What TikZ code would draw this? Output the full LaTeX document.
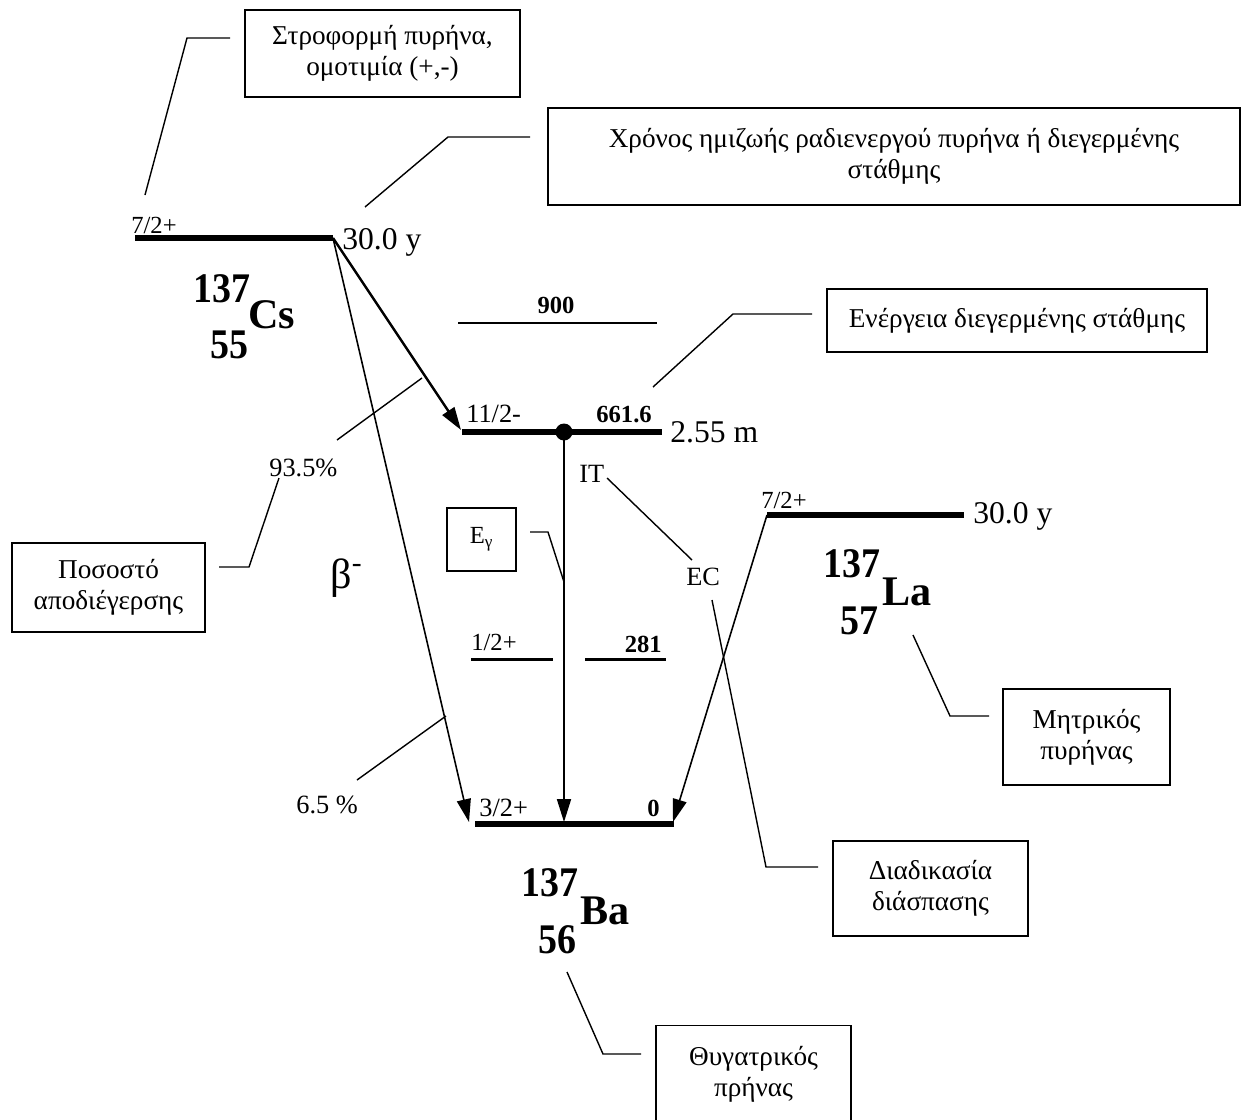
\documentclass[tikz,border=0pt]{standalone}
\usepackage{fontspec}
\setmainfont{Liberation Serif}
\newfontfamily\nucdigits[FakeStretch=0.9]{Liberation Serif}
\usetikzlibrary{arrows.meta}
\begin{document}
\begin{tikzpicture}[x=0.02cm,y=-0.02cm,
  box/.style={draw,line width=1pt,align=center,font=\fontsize{15.5}{17.5}\selectfont,inner sep=0pt},
  lead/.style={line width=0.8pt},
  lvl/.style={line width=3.6pt},
  lvlthin/.style={line width=1.7pt},
  lab/.style={font=\fontsize{15}{17}\selectfont,inner sep=0pt},
  spin/.style={font=\fontsize{14}{16}\selectfont,inner sep=0pt},
  bl/.style={font=\fontsize{14}{16}\selectfont\bfseries,inner sep=0pt},
  big/.style={font=\fontsize{24}{26}\selectfont\bfseries,inner sep=0pt},
  bigd/.style={font=\fontsize{24}{26}\selectfont\nucdigits\bfseries,inner sep=0pt},
  hl/.style={font=\fontsize{18}{20}\selectfont,inner sep=0pt},
  arr/.style={-{Triangle[length=13pt,width=8pt]}},
]
\useasboundingbox (0,0) rectangle (1244,1119);
\clip (0,0) rectangle (1244,1119);

% ---- boxes
\node[box,minimum width=5.5cm,minimum height=1.74cm] (bspin) at (382.5,53.5) {Στροφορμή πυρήνα,\\ομοτιμία (+,-)};
\node[box,minimum width=13.84cm,minimum height=1.94cm] (bhalf) at (894,156.5) {Χρόνος ημιζωής ραδιενεργού πυρήνα ή διεγερμένης\\στάθμης};
\node[box,minimum width=7.6cm,minimum height=1.26cm] (benergy) at (1017,320.5) {Ενέργεια διεγερμένης στάθμης};
\node[box,minimum width=3.86cm,minimum height=1.78cm] (bratio) at (108.5,587.5) {Ποσοστό\\αποδιέγερσης};
\node[box,minimum width=1.38cm,minimum height=1.26cm,font=\fontsize{14}{16}\selectfont] (bgamma) at (481.5,539.5) {E\textsubscript{γ}};
\node[box,minimum width=3.34cm,minimum height=1.92cm] (bparent) at (1086.5,737) {Μητρικός\\πυρήνας};
\node[box,minimum width=3.9cm,minimum height=1.9cm] (bproc) at (930.5,888.5) {Διαδικασία\\διάσπασης};
\node[box,minimum width=3.9cm,minimum height=1.94cm] (bdaughter) at (753.5,1074) {Θυγατρικός\\πρήνας};

% ---- level end points
\coordinate (csL) at (135,238);  \coordinate (csR) at (333,238);
\coordinate (e9L) at (458,323);  \coordinate (e9R) at (657,323);
\coordinate (e6L) at (462,432);  \coordinate (e6R) at (662,432);
\coordinate (e2L) at (471,659);  \coordinate (e2M) at (553,659);
\coordinate (e2N) at (585,659);  \coordinate (e2R) at (666,659);
\coordinate (g0L) at (475,824);  \coordinate (g0R) at (674,824);
\coordinate (laL) at (767,515);  \coordinate (laR) at (964,515);
\coordinate (dot) at (564,432);
\coordinate (tipA) at (461,430);
\coordinate (tipB) at (469,822);
\coordinate (tipC) at (564,822);
\coordinate (tipD) at (673,822);

% ---- levels
\draw[lvl] (csL) -- (csR);
\draw[lvlthin] (e9L) -- (e9R);
\draw[lvl] (e6L) -- (e6R);
\draw[lvlthin] (e2L) -- (e2M);
\draw[lvlthin] (e2N) -- (e2R);
\draw[lvl] (g0L) -- (g0R);
\draw[lvl] (laL) -- (laR);
\fill (dot) circle[radius=8.5];

% ---- transitions
\draw[arr,line width=1.4pt] (csR) -- (tipA);
\draw[arr,line width=0.9pt] (csR) -- (tipB);
\draw[arr,line width=0.8pt] (dot) -- (tipC);
\draw[arr,line width=0.9pt] (laL) -- (tipD);

% ---- level labels
\node[spin,anchor=base west] (s1) at (131,233) {7/2+};
\node[hl,anchor=base west] (t1) at (342,249) {30.0 y};
\node[bl,anchor=base] (n900) at (556,313) {900};
\node[lab,anchor=base west] (s2) at (466,422) {11/2-};
\node[bl,anchor=base west] (n661) at (596,422) {661.6};
\node[hl,anchor=base west] (t2) at (670,442) {2.55 m};
\node[spin,anchor=base west] (s3) at (471,650) {1/2+};
\node[bl,anchor=base east] (n281) at (662,652) {281};
\node[lab,anchor=base west] (s4) at (479,816) {3/2+};
\node[bl,anchor=base east] (n0) at (660,816) {0};
\node[spin,anchor=base west] (s5) at (761,508) {7/2+};
\node[hl,anchor=base west] (t3) at (973,523) {30.0 y};
\node[lab,anchor=base west] (p1) at (269,476) {93.5\%};
\node[lab,anchor=base west] (p2) at (296,813) {6.5 \%};
\node[font=\fontsize{24}{26}\selectfont,inner sep=0pt,anchor=base west] (beta) at (330,588) {β\textsuperscript{-}};
\node[lab,anchor=base west] (it) at (579,482) {IT};
\node[lab,anchor=base west] (ec) at (686,585) {EC};

% ---- nuclides
\node[bigd,anchor=base west] (cs1) at (193,302) {137};
\node[big,anchor=base west] (cs2) at (248,328) {Cs};
\node[bigd,anchor=base west] (cs3) at (210,358) {55};
\node[bigd,anchor=base west] (la1) at (823,577) {137};
\node[big,anchor=base west] (la2) at (882,605) {La};
\node[bigd,anchor=base west] (la3) at (840,634) {57};
\node[bigd,anchor=base west] (ba1) at (521,896) {137};
\node[big,anchor=base west] (ba2) at (580,924) {Ba};
\node[bigd,anchor=base west] (ba3) at (538,953) {56};

% ---- leader lines
\coordinate (a1) at (145,195); \coordinate (a2) at (187,38); \coordinate (a3) at (230,38);
\draw[lead] (a1) -- (a2) -- (a3);
\coordinate (b1) at (365,207); \coordinate (b2) at (448,137); \coordinate (b3) at (530,137);
\draw[lead] (b1) -- (b2) -- (b3);
\coordinate (c1) at (653,387); \coordinate (c2) at (733,314); \coordinate (c3) at (812,314);
\draw[lead] (c1) -- (c2) -- (c3);
\coordinate (d1) at (422,378); \coordinate (d2) at (337,440);
\draw[lead] (d1) -- (d2);
\coordinate (e1) at (279,478); \coordinate (e2) at (249,567); \coordinate (e3) at (219,567);
\draw[lead] (e1) -- (e2) -- (e3);
\coordinate (f1) at (446,716); \coordinate (f2) at (357,780);
\draw[lead] (f1) -- (f2);
\coordinate (g1) at (530,532); \coordinate (g2) at (548,532); \coordinate (g3) at (564,582);
\draw[lead] (g1) -- (g2) -- (g3);
\coordinate (h1) at (607,478); \coordinate (h2) at (692,560);
\draw[lead] (h1) -- (h2);
\coordinate (i1) at (712,600); \coordinate (i2) at (766,867); \coordinate (i3) at (818,867);
\draw[lead] (i1) -- (i2) -- (i3);
\coordinate (j1) at (913,635); \coordinate (j2) at (950,716); \coordinate (j3) at (989,716);
\draw[lead] (j1) -- (j2) -- (j3);
\coordinate (k1) at (567,972); \coordinate (k2) at (603,1054); \coordinate (k3) at (641,1054);
\draw[lead] (k1) -- (k2) -- (k3);
\end{tikzpicture}
\end{document}
